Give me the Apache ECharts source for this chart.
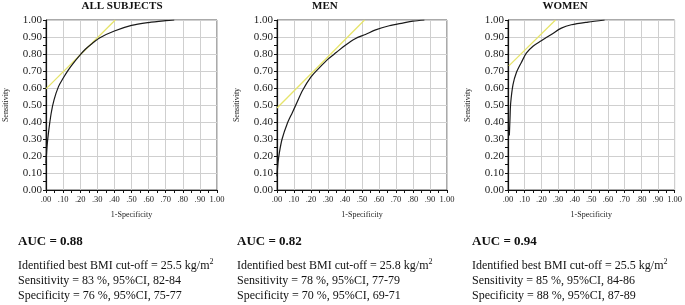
<!DOCTYPE html>
<html>
<head>
<meta charset="utf-8">
<script src="https://cdn.jsdelivr.net/npm/echarts@6/dist/echarts.min.js"></script>
<style>
  html, body { margin: 0; padding: 0; background: #fff; }
  #graph1 { width: 685px; height: 305px; }
</style>
</head>
<body>
<div id="graph1"></div>
<script>
var titles = ['ALL SUBJECTS', 'MEN', 'WOMEN'];
var aucs = ['0.88', '0.82', '0.94'];
var cutoffs = ['25.5', '25.8', '25.5'];
var sensLines = ['83 %, 95%CI, 82-84', '78 %, 95%CI, 77-79', '85 %, 95%CI, 84-86'];
var specLines = ['76 %, 95%CI, 75-77', '70 %, 95%CI, 69-71', '88 %, 95%CI, 87-89'];
var xTicks = ['.00', '.10', '.20', '.30', '.40', '.50', '.60', '.70', '.80', '.90', '1.00'];

// ROC curves (1-specificity, sensitivity)
var allFpr = [0, 0.006, 0.014, 0.03, 0.047, 0.073, 0.10, 0.13, 0.167, 0.20, 0.23, 0.27, 0.318, 0.40, 0.50, 0.60, 0.70, 0.75];
var allTpr = [0.157, 0.255, 0.333, 0.45, 0.53, 0.608, 0.657, 0.705, 0.755, 0.795, 0.828, 0.862, 0.897, 0.935, 0.968, 0.985, 0.996, 1.0];
var menFpr = [0, 0.006, 0.014, 0.03, 0.06, 0.09, 0.12, 0.15, 0.20, 0.25, 0.30, 0.35, 0.40, 0.46, 0.52, 0.58, 0.66, 0.74, 0.80, 0.867];
var menTpr = [0.08, 0.16, 0.22, 0.30, 0.39, 0.455, 0.52, 0.585, 0.665, 0.72, 0.77, 0.81, 0.85, 0.89, 0.915, 0.942, 0.966, 0.982, 0.993, 1.0];
var womenFpr = [0.008, 0.012, 0.016, 0.03, 0.05, 0.08, 0.11, 0.15, 0.20, 0.26, 0.32, 0.38, 0.48, 0.58];
var womenTpr = [0.32, 0.42, 0.51, 0.62, 0.69, 0.75, 0.805, 0.846, 0.878, 0.915, 0.952, 0.972, 0.988, 1.0];

// tangent lines at the best cut-off
var allTanX = [0, 0.405];
var allTanY = [0.595, 1.0];
var menTanX = [0, 0.515];
var menTanY = [0.482, 1.0];
var womenTanX = [0.005, 0.285];
var womenTanY = [0.73, 1.0];

var curvesX = [allFpr, menFpr, womenFpr];
var curvesY = [allTpr, menTpr, womenTpr];
var tanX = [allTanX, menTanX, womenTanX];
var tanY = [allTanY, menTanY, womenTanY];

var gridLeft = [46, 277, 508];
var gridWidth = [171, 170, 169];
var textLeft = [18, 237, 472];
var serif = '"Liberation Serif", "DejaVu Serif", serif';

function zip(xs, ys) {
    var out = [];
    for (var i = 0; i < xs.length; i++) {
        out.push([xs[i], ys[i]]);
    }
    return out;
}

var myChart1 = echarts.init(document.getElementById('graph1'));

var grids = [], xAxes = [], yAxes = [], series = [], graphics = [];

for (var i = 0; i < 3; i++) {
    grids.push({
        left: gridLeft[i], top: 20, width: gridWidth[i], height: 170,
        show: true, borderColor: '#555', borderWidth: 1
    });
    xAxes.push({
        gridIndex: i, type: 'value', min: 0, max: 1, interval: 0.1,
        name: '1-Specificity', nameLocation: 'middle', nameGap: 21,
        nameTextStyle: { fontFamily: serif, fontSize: 8, color: '#222' },
        axisLine: { lineStyle: { color: '#111', width: 1.2 } },
        axisTick: { show: true, length: 3, lineStyle: { color: '#111' } },
        minorTick: { show: true, splitNumber: 2, length: 3, lineStyle: { color: '#111' } },
        axisLabel: {
            fontFamily: serif, fontSize: 8.5, color: '#222', margin: 5,
            formatter: function (v) { return xTicks[Math.round(v * 10)]; }
        },
        splitLine: { show: true, lineStyle: { color: '#cfcfcf', width: 1 } }
    });
    yAxes.push({
        gridIndex: i, type: 'value', min: 0, max: 1, interval: 0.1,
        name: 'Sensitivity', nameLocation: 'middle', nameGap: 36, nameRotate: 90,
        nameTextStyle: { fontFamily: serif, fontSize: 8, color: '#222' },
        axisLine: { show: true, lineStyle: { color: '#111', width: 1.2 } },
        axisTick: { show: true, length: 3, lineStyle: { color: '#111' } },
        minorTick: { show: true, splitNumber: 2, length: 3, lineStyle: { color: '#111' } },
        axisLabel: {
            fontFamily: serif, fontSize: 11, color: '#222', margin: 4,
            formatter: function (v) { return v.toFixed(2); }
        },
        splitLine: { show: true, lineStyle: { color: '#cfcfcf', width: 1 } }
    });
    series.push({
        type: 'line', xAxisIndex: i, yAxisIndex: i,
        data: zip(tanX[i], tanY[i]),
        showSymbol: false, silent: true,
        lineStyle: { color: '#e6e46a', width: 1.3 }
    });
    series.push({
        type: 'line', xAxisIndex: i, yAxisIndex: i,
        data: zip(curvesX[i], curvesY[i]),
        showSymbol: false, silent: true, smooth: 0.3,
        lineStyle: { color: '#1a1a1a', width: 1.2 }
    });
    graphics.push({
        type: 'text', left: gridLeft[i] + gridWidth[i] / 2 - 50, top: 1,
        style: {
            text: titles[i], width: 100, align: 'center',
            font: 'bold 11px ' + serif, fill: '#111'
        }
    });
    graphics.push({
        type: 'text', left: textLeft[i], top: 235,
        style: { text: 'AUC = ' + aucs[i], font: 'bold 13px ' + serif, fill: '#111' }
    });
    graphics.push({
        type: 'text', left: textLeft[i], top: 258,
        style: {
            text: '{a|Identified best BMI cut-off = ' + cutoffs[i] + ' kg/m}{s|2}',
            rich: {
                a: { font: '12px ' + serif, fill: '#111', lineHeight: 15 },
                s: { font: '8px ' + serif, fill: '#111', verticalAlign: 'top', lineHeight: 15 }
            }
        }
    });
    graphics.push({
        type: 'text', left: textLeft[i], top: 275,
        style: { text: 'Sensitivity = ' + sensLines[i], font: '12px ' + serif, fill: '#111' }
    });
    graphics.push({
        type: 'text', left: textLeft[i], top: 290,
        style: { text: 'Specificity = ' + specLines[i], font: '12px ' + serif, fill: '#111' }
    });
}

var option = {
    backgroundColor: '#fff',
    animation: false,
    grid: grids,
    xAxis: xAxes,
    yAxis: yAxes,
    series: series,
    graphic: graphics
};
myChart1.setOption(option);
</script>
</body>
</html>
